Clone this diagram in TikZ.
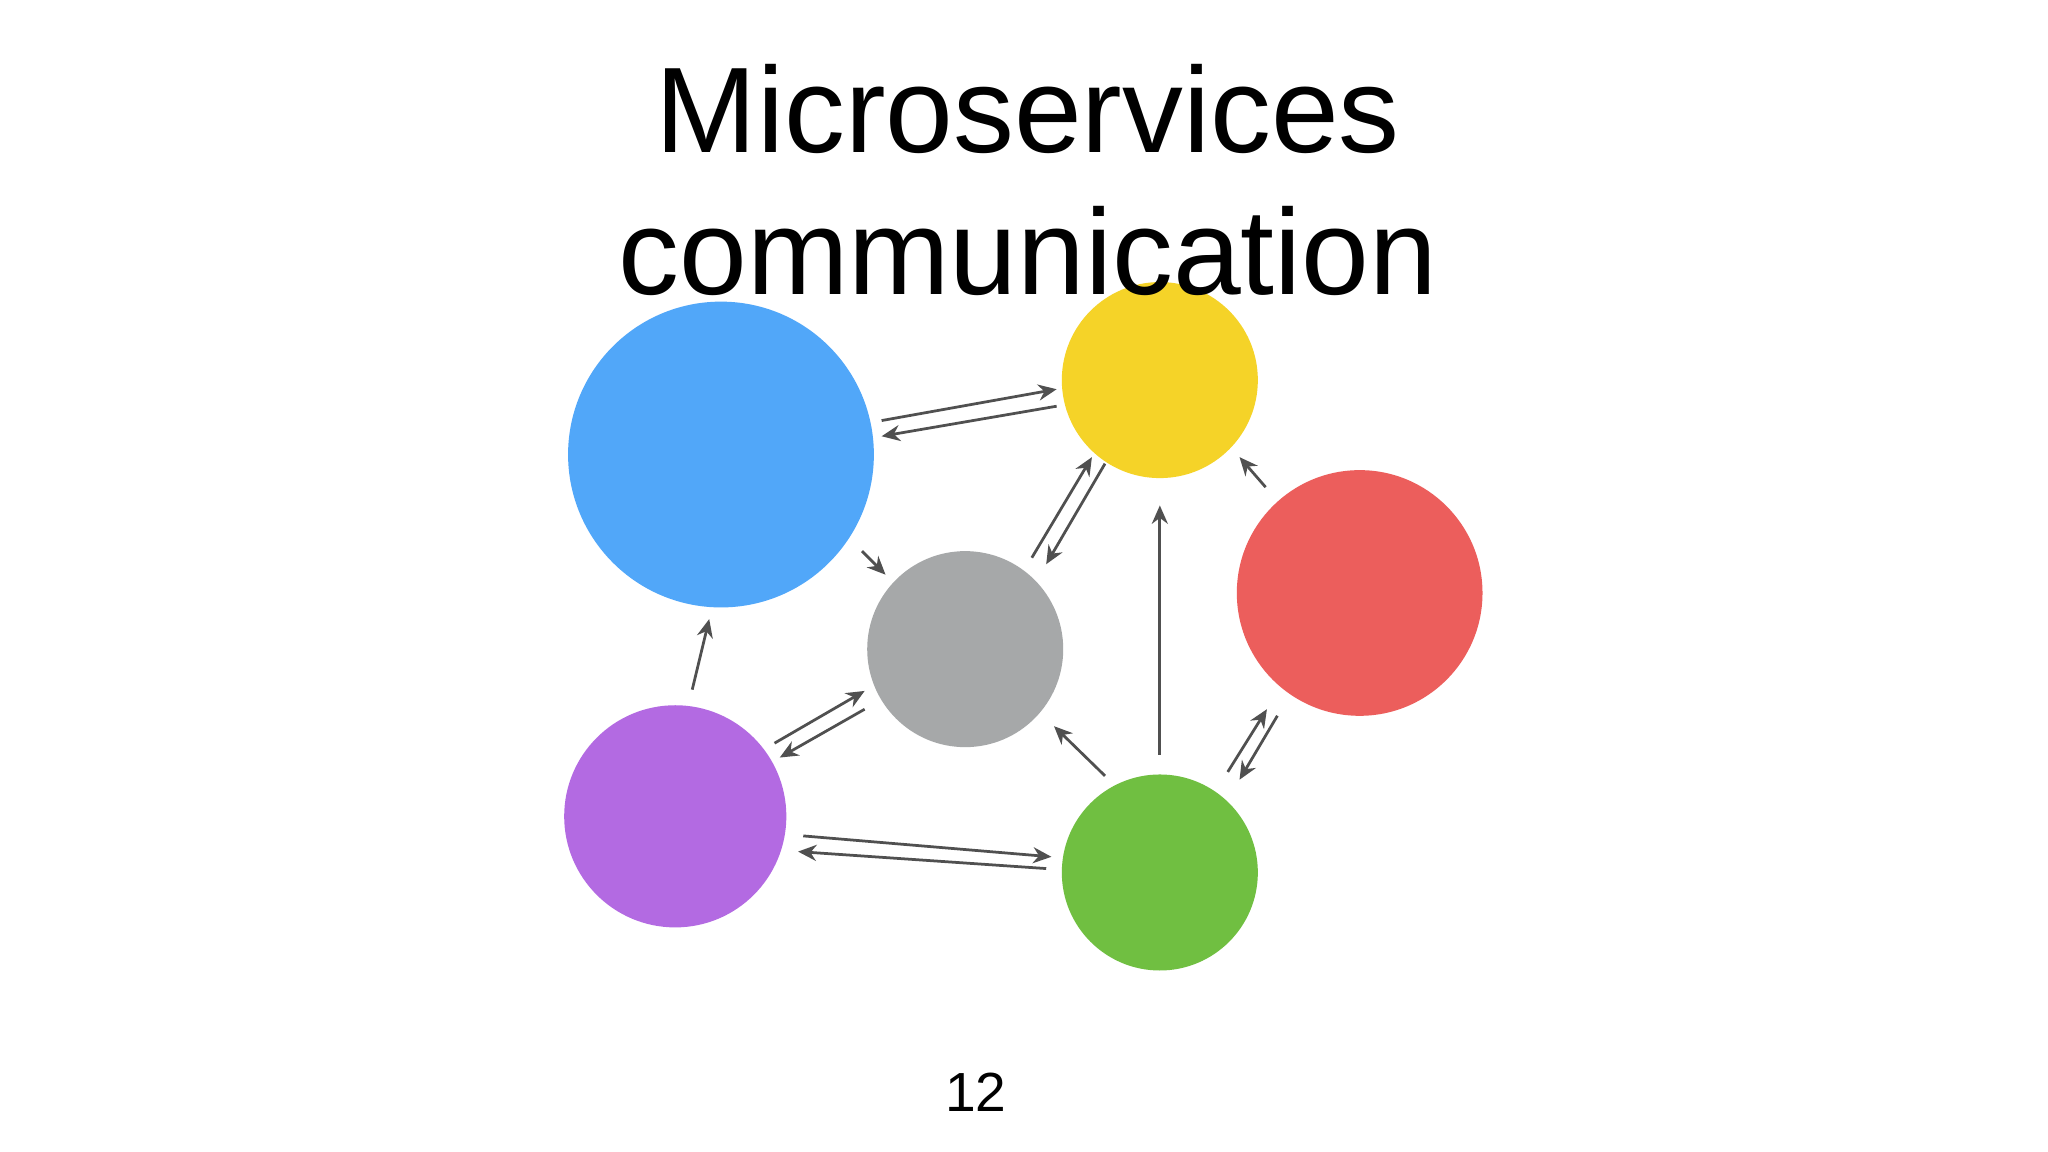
\documentclass[tikz,border=0pt]{standalone}
\usepackage{fontspec}
\setmainfont{Liberation Sans}
\usetikzlibrary{arrows.meta}
\definecolor{cblue}{HTML}{51A7F9}
\definecolor{cyellow}{HTML}{F5D328}
\definecolor{cred}{HTML}{EC5E5C}
\definecolor{cgray}{HTML}{A6A8A9}
\definecolor{cpurple}{HTML}{B36AE2}
\definecolor{cgreen}{HTML}{70BF41}
\definecolor{cline}{HTML}{505050}
\begin{document}
\begin{tikzpicture}[x=0.01cm,y=-0.01cm,
  svc/.style={circle,inner sep=0pt,draw=none},
  conn/.style={draw=cline,line width=0.6pt,-{Stealth[length=4pt,width=3.5pt]}}]
\useasboundingbox (0,0) rectangle (1568,882);
\fill[white] (0,0) rectangle (1568,882);
\node[svc,fill=cblue,minimum size=2.34cm] (blue) at (552,348) {};
\node[svc,fill=cyellow,minimum size=1.5cm] (yellow) at (888,291) {};
\node[svc,fill=cred,minimum size=1.88cm] (red) at (1041,454) {};
\node[svc,fill=cgray,minimum size=1.5cm] (gray) at (739,497) {};
\node[svc,fill=cpurple,minimum size=1.7cm] (purple) at (517,625) {};
\node[svc,fill=cgreen,minimum size=1.5cm] (green) at (888,668) {};
\node[font=\fontsize{26.5pt}{31pt}\selectfont,align=center] (title) at (787,138) {Microservices\\communication};
\node[font=\fontsize{12pt}{14pt}\selectfont] (page) at (747,836) {12};
\foreach \n/\ax/\ay/\bx/\by in {
 a/675/322/809/298, b/809/311/675/334, c/790/427/836/350, d/846/355/801/432,
 e/969/373/949/350, f/660/422/678/440, g/888/578/888/387, h/846/594/807/556,
 i/940/591/970/543, j/978/548/949/597, k/530/528/543/474, l/593/569/662/529,
 m/662/543/597/580, n/615/640/805/656, o/801/665/611/652}{
 \coordinate (\n s) at (\ax,\ay);
 \coordinate (\n e) at (\bx,\by);
 \draw[conn] (\n s) -- (\n e);
}
\end{tikzpicture}
\end{document}
